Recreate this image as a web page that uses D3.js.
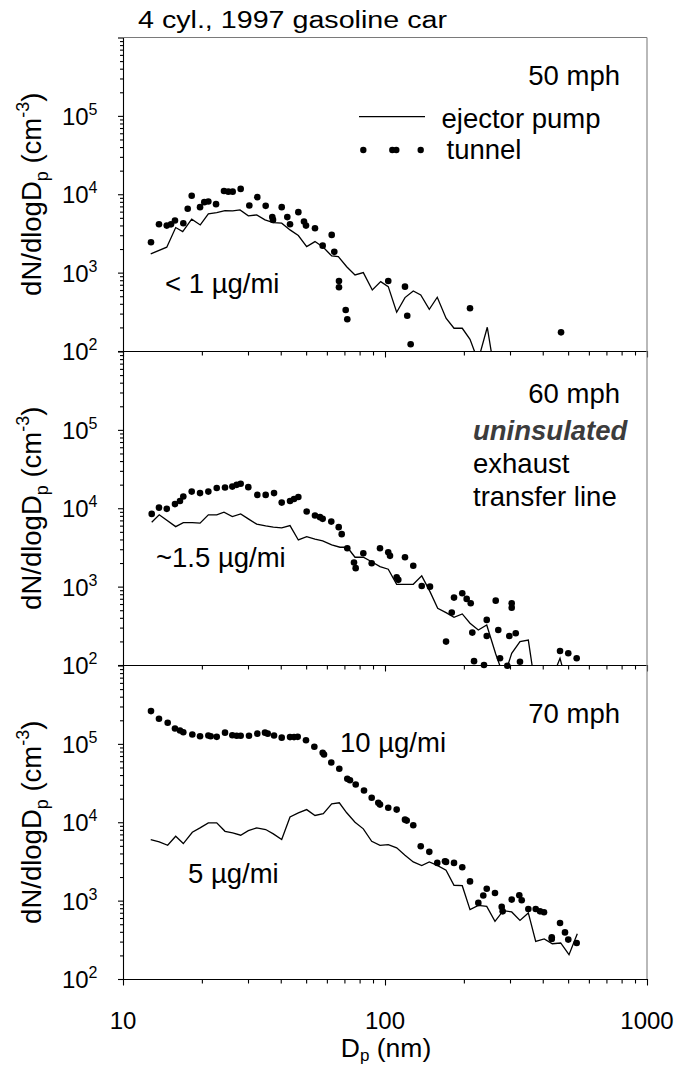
<!DOCTYPE html>
<html><head><meta charset="utf-8">
<script src="https://cdn.jsdelivr.net/npm/d3@7/dist/d3.min.js"></script>
<style>
body{margin:0;background:#fff}
svg{display:block}
text{font-family:"Liberation Sans",Arial,Helvetica,sans-serif;fill:#000}
</style>
</head><body>
<svg id="chart" width="678" height="1066"></svg>
<script>
// ---------- data ----------
const xTickValues = [10, 100, 1000];
const yTickExponents = [2, 3, 4, 5];
const speedLabels = ["50 mph", "60 mph", "70 mph"];

// 50 mph
const dp50Pump = [12.76,14.69,15.89,16.90,18.29,19.72,21.17,22.79,24.51,26.22,27.97,30.08,32.38,34.83,37.48,40.34,43.40,46.69,50.24,54.05,58.15,62.60,66.35,71.42,76.83,82.65,89.45,96.29,102.9,110.8,119.2,128.2,136.9,147.6,158.3,171.0,183.4,197.2,211.1,226.5,245.7,262.9];
const n50Pump = [1730,2110,3760,3340,4810,4060,5620,5840,6190,6130,6320,5300,5450,4710,4350,4270,3510,2970,2150,2490,2110,1630,1600,1190,935,1000,601,767,662,312,480,584,519,341,485,262,195,195,141,75,201,50];
const dp50Tunnel = [12.79,13.72,14.69,15.25,15.79,16.99,17.66,18.29,19.68,20.43,21.17,22.65,24.29,25.23,26.22,28.13,30.35,32.55,35.04,37.14,37.37,40.34,42.38,43.40,46.69,49.07,49.94,54.05,57.83,62.60,64.04,66.74,66.74,70.79,71.79,102.9,119.2,121.6,125.3,211.1,469.8];
const n50Tunnel = [2445,4150,3980,4130,4620,4270,6520,9550,6850,7930,8070,7480,11000,10800,10800,11700,7180,9180,7110,5110,4710,6850,5110,4150,5910,4480,3980,3690,2210,3030,1840,783,651,334,254,783,662,282,122,351,173];

// 60 mph
const dp60Pump = [12.87,13.75,15.89,16.99,18.39,19.68,21.17,22.79,24.29,26.14,28.13,30.08,32.38,35.04,37.48,40.34,43.40,46.69,50.24,54.05,57.83,62.60,67.33,71.79,76.83,82.65,88.96,95.70,102.9,110.8,119.2,128.2,138.1,148.5,158.9,171.0,183.4,197.2,211.1,227.1,244.5,264.6,284.6,304.5,327.5,352.4,379.3,418.9,465.6,499.4];
const n60Pump = [6640,8240,5830,6560,6560,6450,8240,8240,8920,7830,8470,7320,6270,5960,5740,5620,6010,3940,4350,4030,3830,3410,3180,3180,2370,2370,2080,1800,1670,1070,1070,1070,1370,863,530,465,406,448,341,280,324,138,70,141,199,208,40,50,122,50];
const dp60Tunnel = [12.87,13.72,14.69,15.79,16.50,16.99,18.29,19.68,21.17,22.79,24.51,26.14,27.16,28.13,30.08,32.55,35.04,37.71,40.34,43.40,44.96,46.69,50.24,54.05,56.48,57.83,62.37,66.57,68.35,71.79,76.15,77.29,82.65,88.96,95.70,102.9,104.5,110.8,112.4,119.2,128.2,138.1,148.5,171.0,179.8,183.4,197.2,205.0,212.4,215.4,218.7,238.7,244.5,244.5,264.6,270.6,274.8,293.0,298.2,304.5,304.5,315.5,327.5,465.6,500.6,539.0];
const n60Tunnel = [8470,10200,9820,11300,12400,14100,16300,15600,16300,18100,18400,18900,19900,20500,18600,14800,14800,15600,11800,12400,13100,13900,9080,8070,7700,7320,6760,5740,4670,3090,2030,1720,2670,1990,3090,2750,2470,1320,1220,2370,1850,1020,1000,199,466,724,824,697,614,259,112,100,376,234,662,280,122,98,234,614,539,254,110,151,141,122];

// 70 mph
const dp70Pump = [12.76,13.75,14.81,15.89,16.99,18.39,19.68,21.17,22.79,24.51,26.22,28.13,30.08,32.38,35.04,37.48,40.34,43.40,46.69,50.24,54.05,58.15,62.60,66.92,71.42,76.83,82.65,88.96,95.70,102.9,110.8,119.2,128.2,138.1,147.6,158.3,171.0,183.4,197.2,211.1,227.1,244.5,262.9,282.8,304.5,327.5,352.4,376.0,405.2,435.1,468.3,503.9,542.0];
const n70Pump = [6010,5620,5080,6620,5350,7450,8470,9810,9810,7670,7320,6830,7830,8470,8070,7110,6010,11700,13200,14500,12200,12900,17200,17700,13200,10000,8240,5710,5080,5190,4710,3790,3120,2800,3120,2820,2440,1570,1550,767,871,846,544,745,717,560,697,302,324,282,288,204,379];
const dp70Tunnel = [12.79,13.72,14.81,15.79,16.50,16.99,18.39,19.68,21.17,21.61,22.79,24.51,26.14,27.16,28.13,30.26,32.55,34.83,35.67,37.71,40.34,43.40,44.96,46.43,49.94,53.74,57.83,58.51,62.37,66.92,71.79,73.52,77.30,83.15,88.96,94.28,95.70,102.9,110.8,119.2,121.0,128.2,136.9,147.6,158.3,169.4,171.0,183.4,197.2,211.1,227.1,237.2,244.5,262.9,278.9,281.3,304.5,325.5,332.5,352.4,376.0,390.5,404.5,433.0,433.0,465.6,486.4,500.6,539.0];
const n70Tunnel = [262000,209000,186000,157000,148000,141000,132000,125000,128000,125000,123000,139000,129000,127000,127000,127000,135000,139000,135000,128000,120000,122000,122000,123000,111000,91800,76900,73300,57800,48100,35800,34400,30300,25400,20500,17700,16800,15300,14500,10800,10500,9160,4930,4190,3030,3180,3120,3030,2660,1760,935,1160,1420,1250,832,730,1030,1170,1010,783,783,730,710,340,324,519,393,318,288];

// ---------- layout ----------
const svg = d3.select("#chart");
const left = 123, right = 647;
const panelBottoms = [351, 665, 979];
const panelH = 313.5;
const x = d3.scaleLog().domain([10, 1000]).range([left, right]);

const panels = [
  {pumpX: dp50Pump, pumpY: n50Pump, tunX: dp50Tunnel, tunY: n50Tunnel},
  {pumpX: dp60Pump, pumpY: n60Pump, tunX: dp60Tunnel, tunY: n60Tunnel},
  {pumpX: dp70Pump, pumpY: n70Pump, tunX: dp70Tunnel, tunY: n70Tunnel}
];

const defs = svg.append("defs");

panels.forEach((p, i) => {
  const bottom = panelBottoms[i], top = bottom - panelH;
  const y = d3.scaleLog().domain([100, 1e6]).range([bottom, top]);
  const g = svg.append("g");

  defs.append("clipPath").attr("id", "clip" + i)
    .append("rect").attr("x", left).attr("y", top).attr("width", right - left).attr("height", bottom - top);

  // y axis: minor and major ticks
  const minor = y.ticks().filter(v => Math.abs(Math.log10(v) - Math.round(Math.log10(v))) > 1e-6);
  const majors = [1e2, 1e3, 1e4, 1e5, 1e6];
  g.append("g").attr("transform", `translate(${left},0)`)
    .call(d3.axisLeft(y).tickValues(minor).tickSize(3).tickSizeOuter(0).tickFormat(""))
    .call(a => a.select(".domain").remove());
  g.append("g").attr("transform", `translate(${left},0)`)
    .call(d3.axisLeft(y).tickValues(majors).tickSize(5).tickSizeOuter(0).tickFormat(""))
    .call(a => a.select(".domain").attr("stroke", "#000"));

  // y tick labels 10^n
  yTickExponents.forEach(e => {
    const t = g.append("text").attr("x", 97.5).attr("y", y(Math.pow(10, e)) + 9)
      .attr("text-anchor", "end");
    t.append("tspan").attr("font-size", 24).text("10");
    t.append("tspan").attr("font-size", 16).attr("dy", -10).text(e);
  });

  // x axis at panel bottom
  const xMinor = x.ticks().filter(v => !xTickValues.includes(v));
  const xa = g.append("g").attr("transform", `translate(0,${bottom})`);
  xa.call(d3.axisBottom(x).tickValues(xMinor).tickSize(4.5).tickSizeOuter(0).tickFormat(""))
    .call(a => a.select(".domain").remove());
  const xb = g.append("g").attr("transform", `translate(0,${bottom})`);
  xb.call(d3.axisBottom(x).tickValues(xTickValues).tickSize(6.5).tickSizeOuter(0).tickFormat(""));
  g.selectAll("line, path.domain").attr("stroke", "#000").attr("stroke-width", 1.1);

  // pump line
  const pts = p.pumpX.map((d, k) => [d, p.pumpY[k]]);
  g.append("path").datum(pts)
    .attr("clip-path", `url(#clip${i})`)
    .attr("fill", "none").attr("stroke", "#000").attr("stroke-width", 1.3)
    .attr("stroke-linejoin", "miter")
    .attr("d", d3.line().x(d => x(d[0])).y(d => y(d[1])));

  // tunnel dots
  g.selectAll("circle.t").data(p.tunX.map((d, k) => [d, p.tunY[k]])).join("circle")
    .attr("class", "t")
    .attr("cx", d => x(d[0])).attr("cy", d => y(d[1])).attr("r", 3.3).attr("fill", "#000");

  // speed label
  g.append("text").attr("x", 620).attr("y", [85, 403.3, 723.3][i]).attr("text-anchor", "end")
    .attr("font-size", 27.5).text(speedLabels[i]);
});

// frame: top and right borders in gray
svg.append("line").attr("x1", left).attr("x2", right).attr("y1", panelBottoms[0] - panelH).attr("y2", panelBottoms[0] - panelH)
  .attr("stroke", "#7a7a7a").attr("stroke-width", 1.2);
svg.append("line").attr("x1", right).attr("x2", right).attr("y1", panelBottoms[0] - panelH).attr("y2", panelBottoms[2])
  .attr("stroke", "#8a8a8a").attr("stroke-width", 1.2);

// x tick labels
xTickValues.forEach(v => {
  svg.append("text").attr("x", x(v)).attr("y", 1029).attr("text-anchor", "middle")
    .attr("font-size", 24).text(v);
});

// x axis title
const xt = svg.append("text").attr("x", x(100) + 1).attr("y", 1057).attr("text-anchor", "middle").attr("font-size", 26.5);
xt.append("tspan").text("D");
xt.append("tspan").attr("font-size", 17).attr("dy", 4).text("p");
xt.append("tspan").attr("dy", -4).text(" (nm)");

// y axis titles
panelBottoms.forEach(b => {
  const cy = b - panelH / 2;
  const t = svg.append("text").attr("transform", `translate(41,${cy}) rotate(-90)`)
    .attr("text-anchor", "middle").attr("font-size", 27.5);
  t.append("tspan").text("dN/dlogD");
  t.append("tspan").attr("font-size", 18).attr("dy", 7).text("p");
  t.append("tspan").attr("dy", -7).text(" (cm");
  t.append("tspan").attr("font-size", 18).attr("dy", -12).text("-3");
  t.append("tspan").attr("dy", 12).text(")");
});

// title
svg.append("text").attr("x", 138).attr("y", 28).attr("font-size", 23)
  .attr("textLength", 309).attr("lengthAdjust", "spacingAndGlyphs")
  .text("4 cyl., 1997 gasoline car");

// legend (panel 1)
svg.append("line").attr("x1", 359).attr("x2", 425).attr("y1", 116.7).attr("y2", 116.7)
  .attr("stroke", "#000").attr("stroke-width", 1.3);
svg.append("text").attr("x", 441.5).attr("y", 128).attr("font-size", 27.5).text("ejector pump");
[363.3, 392.3, 396.3, 420.7].forEach(cx => {
  svg.append("circle").attr("cx", cx).attr("cy", 150).attr("r", 3.2).attr("fill", "#000");
});
svg.append("text").attr("x", 446.5).attr("y", 159).attr("font-size", 27.5).text("tunnel");

// annotations
const ann = (xx, yy, txt, extra) => {
  const t = svg.append("text").attr("x", xx).attr("y", yy).attr("font-size", 27.5).text(txt);
  if (extra) extra(t);
  return t;
};
ann(165, 292.5, "< 1 µg/mi");
ann(156, 566.7, "~1.5 µg/mi");
ann(340, 751.7, "10 µg/mi");
ann(188, 882.7, "5 µg/mi");
ann(473, 440, "uninsulated", t => t.attr("font-weight", "bold").attr("font-style", "italic").style("fill", "#3c3c3c"));
ann(473, 473.3, "exhaust");
ann(473, 505.7, "transfer line");
</script>
</body></html>
